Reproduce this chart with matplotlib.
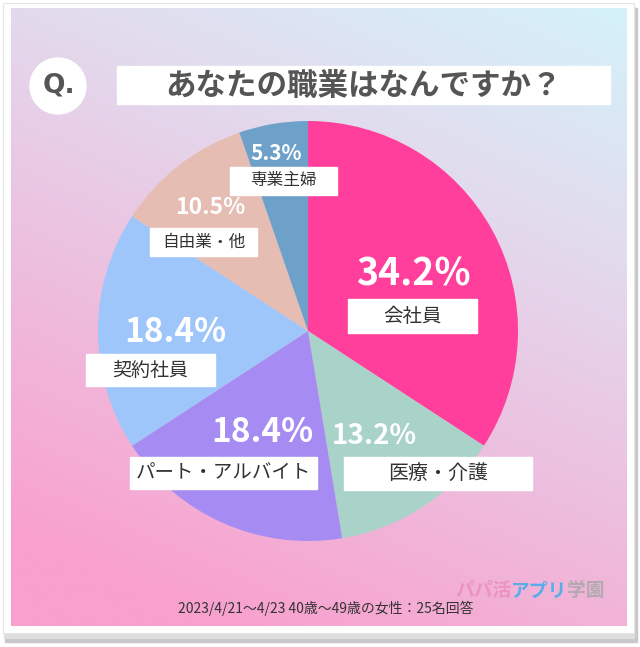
import matplotlib.pyplot as plt
import numpy as np
from matplotlib.patches import Rectangle, Ellipse

plt.rcParams['font.family'] = ['Noto Sans CJK JP', 'DejaVu Sans']

# data
title = "あなたの職業はなんですか？"
labels = ["会社員", "医療・介護", "パート・アルバイト", "契約社員", "自由業・他", "専業主婦"]
shares = [34.2, 13.2, 18.4, 18.4, 10.5, 5.3]
colors = ["#FF3F9B", "#A9D3C8", "#A68CF2", "#9EC6FA", "#E5BDB2", "#6EA1CA"]
footer = "2023/4/21〜4/23 40歳〜49歳の女性：25名回答"

# layout in pixels (x, y) -- label placement only
pct_pos = [(413, 274), (374, 436), (262, 432), (175, 332), (210, 208), (276, 153)]
pct_size = [27, 20, 24, 24, 16.5, 15]
box_ext = [(348, 477, 299, 333), (344, 532, 457, 490), (130, 317, 457, 489),
           (86, 215, 354, 386), (150, 257, 228, 256), (230, 337, 167, 195)]
box_size = [14, 14.4, 14, 13.7, 12, 12]

W, H = 640, 647
fig = plt.figure(figsize=(W / 100, H / 100), dpi=100)
bg = fig.add_axes([0, 0, 1, 1])
bg.set_xlim(0, W)
bg.set_ylim(H, 0)
bg.axis("off")

# frame + shadow
bg.add_patch(Rectangle((5, 8), 632, 634, color="#c8c8c8", zorder=0))
bg.add_patch(Rectangle((4, 6), 630, 632, color="#dedede", zorder=0))
bg.add_patch(Rectangle((3, 3), 631, 630, facecolor="white", edgecolor="#e6e6e6", lw=0.8, zorder=1))

# gradient background
gx, gy = np.meshgrid(np.linspace(0, 1, 200), np.linspace(0, 1, 200))
t = 0.7 * gy + 0.3 * (1 - gx)
stops = np.array([0.0, 0.28, 0.9])
c0 = np.array([212, 242, 250]) / 255
c1 = np.array([226, 219, 238]) / 255
c2 = np.array([249, 160, 206]) / 255
img = np.zeros((200, 200, 3))
for k in range(3):
    img[..., k] = np.interp(t, stops, [c0[k], c1[k], c2[k]])
bg.imshow(img, extent=(11, 627, 626, 8), aspect="auto", zorder=2, interpolation="bilinear")

# header
bg.add_patch(Ellipse((58, 86), 56, 56, color="white", zorder=3))
bg.text(59, 86, "Q.", fontsize=19, fontweight="bold", color="#555555",
        ha="center", va="center", family="DejaVu Sans", zorder=4)
bg.add_patch(Rectangle((117, 66), 493, 38, color="white", zorder=3))
bg.text(363, 86, title, fontsize=22, fontweight="bold", color="#555555",
        ha="center", va="center", zorder=4)

# pie
cx, cy, r = 308, 331, 210
ax = fig.add_axes([(cx - r) / W, 1 - (cy + r) / H, 2 * r / W, 2 * r / H])
ax.pie(shares, colors=colors, startangle=90, counterclock=False,
       wedgeprops=dict(linewidth=0))
ax.set_xlim(-1, 1)
ax.set_ylim(-1, 1)
ax.set_aspect("equal")
ax.axis("off")

# labels on top (full-figure overlay)
ov = fig.add_axes([0, 0, 1, 1])
ov.set_xlim(0, W)
ov.set_ylim(H, 0)
ov.axis("off")
for i, lab in enumerate(labels):
    x, y = pct_pos[i]
    ov.text(x, y, f"{shares[i]}%", fontsize=pct_size[i], fontweight="bold",
            color="white", ha="center", va="center")
    x0, x1, y0, y1 = box_ext[i]
    ov.add_patch(Rectangle((x0, y0), x1 - x0, y1 - y0, color="white"))
    ov.text((x0 + x1) / 2, (y0 + y1) / 2, lab, fontsize=box_size[i],
            color="#333333", ha="center", va="center")

# logo + footer
logo = [("パパ活", "#e98fbb"), ("アプリ", "#3cadea"), ("学園", "#a9a9a9")]
lx = 455
for part, col in logo:
    tx = ov.text(lx, 591, part, fontsize=13.5, fontweight="bold", color=col,
                 ha="left", va="center", alpha=0.85)
    fig.canvas.draw()
    bb = tx.get_window_extent()
    lx += bb.width
ov.text(178, 608, footer, fontsize=10, color="#333333", ha="left", va="center")

fig.savefig("out.png", dpi=100)
